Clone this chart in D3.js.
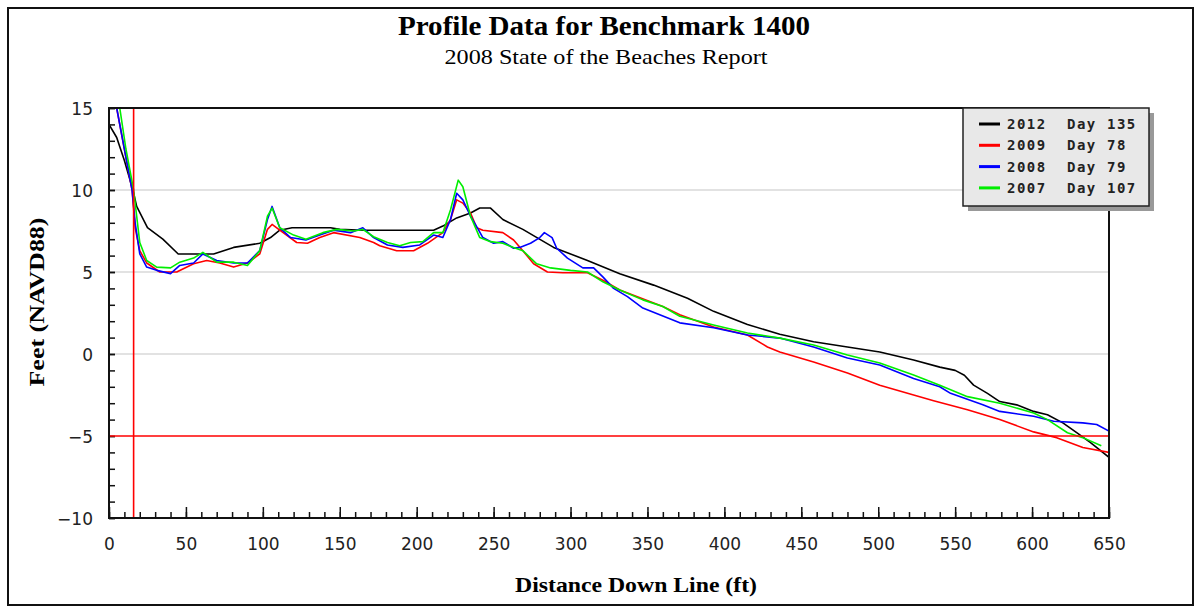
<!DOCTYPE html>
<html lang="en">

<head>
  <meta charset="UTF-8">
  <title>Profile Data for Benchmark 1400</title>
  <style>
    body { margin: 0; background: #fff; }
  </style>
</head>

<body>
  <svg id="svg" width="1200" height="608"></svg>

  <script src="https://d3js.org/d3.v7.min.js"></script>
  <script>
    // profile points: [distance (ft), elevation (ft NAVD88)]
    const s2012 = [[0, 14.0], [5, 13.2], [10, 11.8], [14, 10.5], [16, 9.8], [18, 9.0], [25, 7.7], [35, 7.0], [45, 6.1], [68, 6.1], [81, 6.5], [98, 6.75], [105, 7.1], [111, 7.55], [119, 7.7], [144, 7.7], [150, 7.6], [165, 7.55], [211, 7.55], [217, 7.8], [226, 8.3], [235, 8.6], [241, 8.9], [248, 8.9], [256, 8.2], [269, 7.6], [289, 6.5], [311, 5.7], [332, 4.9], [354, 4.2], [376, 3.4], [393, 2.6], [415, 1.8], [436, 1.2], [458, 0.75], [480, 0.43], [501, 0.12], [523, -0.37], [540, -0.8], [550, -1.0], [556, -1.3], [562, -1.9], [571, -2.4], [579, -2.9], [590, -3.1], [601, -3.5], [610, -3.7], [620, -4.2], [629, -4.8], [638, -5.4], [650, -6.3]]
    const s2009 = [[0, 17.5], [5, 15], [10, 12.5], [15, 10], [17, 7.7], [20, 6.3], [24.5, 5.55], [33, 5.0], [44, 5.0], [55, 5.5], [63.5, 5.7], [72, 5.55], [81, 5.3], [90, 5.55], [98, 6.1], [103, 7.6], [106, 7.9], [111, 7.55], [122, 6.8], [129, 6.75], [137, 7.1], [146, 7.4], [163, 7.1], [172, 6.8], [176, 6.6], [187, 6.3], [198, 6.3], [207, 6.75], [217, 7.4], [222, 8.2], [226, 9.4], [230, 9.2], [235, 8.6], [239, 7.7], [243, 7.55], [256, 7.4], [263, 6.95], [269, 6.3], [276, 5.5], [285, 5.0], [295, 4.95], [311, 4.95], [321, 4.5], [332, 3.9], [343, 3.5], [360, 2.9], [371, 2.4], [393, 1.65], [415, 1.16], [428, 0.43], [436, 0.12], [458, -0.49], [480, -1.16], [501, -1.9], [523, -2.5], [536, -2.85], [558, -3.4], [579, -4.0], [601, -4.75], [616, -5.1], [633, -5.7], [650, -6.0]]
    const s2008 = [[0, 17.5], [5, 15], [10, 12.5], [15, 10], [17, 8.0], [20, 6.1], [24.5, 5.3], [31, 5.1], [40, 4.9], [46, 5.4], [55, 5.55], [61, 6.1], [70, 5.7], [81, 5.55], [90, 5.55], [98, 6.3], [103, 8.2], [106, 9.0], [111, 7.7], [118, 7.1], [128, 6.95], [137, 7.25], [146, 7.55], [157, 7.4], [165, 7.7], [172, 7.1], [181, 6.65], [191, 6.5], [202, 6.65], [211, 7.25], [217, 7.1], [222, 8.2], [226, 9.8], [230, 9.4], [235, 8.4], [240, 7.6], [243, 7.1], [250, 6.75], [256, 6.85], [263, 6.45], [267, 6.5], [274, 6.75], [280, 7.1], [283, 7.4], [288, 7.1], [291, 6.45], [298, 5.85], [308, 5.25], [315, 5.25], [321, 4.7], [328, 4.0], [337, 3.5], [347, 2.8], [371, 1.9], [393, 1.6], [415, 1.16], [436, 0.97], [458, 0.43], [480, -0.24], [501, -0.67], [523, -1.5], [540, -2.0], [547, -2.4], [568, -3.1], [579, -3.5], [601, -3.8], [614, -4.1], [633, -4.2], [642, -4.3], [650, -4.7]]
    const s2007 = [[0, 18], [7, 15], [11, 12.5], [16, 10], [18, 8.4], [20, 6.8], [24.5, 5.7], [31, 5.3], [40, 5.25], [46, 5.6], [55, 5.85], [61, 6.2], [70, 5.6], [81, 5.6], [90, 5.4], [98, 6.3], [103, 8.4], [106, 8.9], [111, 7.7], [120, 7.25], [128, 7.0], [139, 7.4], [148, 7.6], [159, 7.5], [165, 7.6], [172, 7.15], [181, 6.8], [189, 6.6], [196, 6.8], [204, 6.85], [211, 7.4], [217, 7.4], [222, 8.8], [227, 10.6], [230, 10.2], [235, 8.4], [241, 7.1], [248, 6.85], [256, 6.75], [263, 6.5], [269, 6.3], [278, 5.5], [287, 5.25], [300, 5.1], [311, 5.0], [321, 4.4], [332, 3.9], [347, 3.3], [360, 2.9], [371, 2.3], [393, 1.77], [415, 1.28], [436, 0.97], [458, 0.55], [480, -0.06], [501, -0.55], [523, -1.28], [540, -1.9], [558, -2.6], [579, -3.0], [601, -3.6], [610, -4.0], [623, -4.8], [633, -5.1], [645, -5.6]]

    const years = ['2012', '2009', '2008', '2007']
    const days = [135, 78, 79, 107]
    const colors = ['#000000', '#ff0000', '#0000ff', '#00ee00']
    const series = [s2012, s2009, s2008, s2007]

    const xTicks = d3.range(0, 651, 50)
    const yTicks = d3.range(-10, 16, 5)
    const gridValues = [10, 5, 0]
    const refX = 16   // red vertical marker
    const refY = -5   // red horizontal marker

    const plotLeft = 109, plotRight = 1109, plotTop = 108, plotBottom = 518

    const xScale = d3.scaleLinear().domain([0, 650]).range([plotLeft, plotRight])
    const yScale = d3.scaleLinear().domain([-10, 15]).range([plotBottom, plotTop])

    const svg = d3.select('#svg')
      .style('font-family', 'DejaVu Sans, sans-serif')

    // outer border
    svg.append('rect')
      .attr('x', 8).attr('y', 8)
      .attr('width', 1185).attr('height', 597)
      .attr('fill', '#fff')
      .attr('stroke', '#111')
      .attr('stroke-width', 2)

    svg.append('text')
      .attr('x', 604).attr('y', 35)
      .attr('text-anchor', 'middle')
      .attr('textLength', 412)
      .attr('lengthAdjust', 'spacingAndGlyphs')
      .style('font-family', 'Liberation Serif, serif')
      .style('font-weight', 'bold')
      .style('font-size', '27px')
      .text('Profile Data for Benchmark 1400')

    svg.append('text')
      .attr('x', 606).attr('y', 64)
      .attr('text-anchor', 'middle')
      .attr('textLength', 323)
      .attr('lengthAdjust', 'spacingAndGlyphs')
      .style('font-family', 'Liberation Serif, serif')
      .style('font-size', '22px')
      .text('2008 State of the Beaches Report')

    // grid
    svg.append('g')
      .selectAll('line')
      .data(gridValues)
      .enter()
      .append('line')
      .attr('x1', plotLeft).attr('x2', plotRight)
      .attr('y1', d => yScale(d)).attr('y2', d => yScale(d))
      .attr('stroke', '#d8d8d8')
      .attr('stroke-width', 1.5)

    // axes
    const yMinor = svg.append('g')
      .attr('transform', `translate(${plotLeft},0)`)
      .call(d3.axisLeft(yScale).tickValues(d3.range(-10, 16, 1)).tickSize(-6).tickSizeOuter(0).tickFormat(''))
    const yMajor = svg.append('g')
      .attr('transform', `translate(${plotLeft},0)`)
      .call(d3.axisLeft(yScale).tickValues(yTicks).tickSize(-6).tickSizeOuter(0).tickPadding(16))
    const xMinor = svg.append('g')
      .attr('transform', `translate(0,${plotBottom})`)
      .call(d3.axisBottom(xScale).tickValues(d3.range(0, 651, 10)).tickSize(-6).tickSizeOuter(0).tickFormat(''))
    const xMajor = svg.append('g')
      .attr('transform', `translate(0,${plotBottom})`)
      .call(d3.axisBottom(xScale).tickValues(xTicks).tickSize(-11).tickSizeOuter(0).tickPadding(20))

    ;[yMinor, yMajor, xMinor, xMajor].forEach(g => {
      g.select('.domain').remove()
      g.selectAll('line').attr('stroke', '#111').attr('stroke-width', 1.5)
      g.selectAll('text')
        .style('font-family', 'DejaVu Sans, sans-serif')
        .style('font-size', '17px')
        .attr('fill', '#222')
    })
    yMajor.selectAll('text').attr('dy', '0.4em')

    // clip for the profile lines
    svg.append('clipPath')
      .attr('id', 'plot-clip')
      .append('rect')
      .attr('x', plotLeft).attr('y', plotTop)
      .attr('width', plotRight - plotLeft).attr('height', plotBottom - plotTop)

    const line = d3.line()
      .x(d => xScale(d[0]))
      .y(d => yScale(d[1]))

    svg.append('g')
      .attr('clip-path', 'url(#plot-clip)')
      .selectAll('path')
      .data(series)
      .enter()
      .append('path')
      .attr('d', d => line(d))
      .attr('fill', 'none')
      .attr('stroke', (d, i) => colors[i])
      .attr('stroke-width', 1.6)
      .attr('stroke-linejoin', 'round')

    // red reference lines
    svg.append('line')
      .attr('x1', plotLeft).attr('x2', plotRight)
      .attr('y1', yScale(refY)).attr('y2', yScale(refY))
      .attr('stroke', '#ff0000')
      .attr('stroke-width', 1.6)
    svg.append('line')
      .attr('x1', xScale(refX)).attr('x2', xScale(refX))
      .attr('y1', plotTop).attr('y2', plotBottom)
      .attr('stroke', '#ff0000')
      .attr('stroke-width', 1.6)

    // plot frame
    svg.append('rect')
      .attr('x', plotLeft).attr('y', plotTop)
      .attr('width', plotRight - plotLeft).attr('height', plotBottom - plotTop)
      .attr('fill', 'none')
      .attr('stroke', '#111')
      .attr('stroke-width', 2)

    svg.append('text')
      .attr('x', 636).attr('y', 592)
      .attr('text-anchor', 'middle')
      .attr('textLength', 242)
      .attr('lengthAdjust', 'spacingAndGlyphs')
      .style('font-family', 'Liberation Serif, serif')
      .style('font-weight', 'bold')
      .style('font-size', '21px')
      .text('Distance Down Line (ft)')

    svg.append('text')
      .attr('transform', 'translate(44,302) rotate(-90)')
      .attr('text-anchor', 'middle')
      .attr('textLength', 169)
      .attr('lengthAdjust', 'spacingAndGlyphs')
      .style('font-family', 'Liberation Serif, serif')
      .style('font-weight', 'bold')
      .style('font-size', '21px')
      .text('Feet (NAVD88)')

    // legend
    const legend = svg.append('g')
    legend.append('rect')
      .attr('x', 968).attr('y', 113)
      .attr('width', 186).attr('height', 98)
      .attr('fill', '#999')
    legend.append('rect')
      .attr('x', 963).attr('y', 108)
      .attr('width', 186).attr('height', 98)
      .attr('fill', '#e8e8e8')
      .attr('stroke', '#222')
      .attr('stroke-width', 1.5)

    const rows = legend.selectAll('g.row')
      .data(years)
      .enter()
      .append('g')
      .attr('class', 'row')
      .attr('transform', (d, i) => `translate(0,${124 + i * 21.3})`)
    rows.append('line')
      .attr('x1', 979).attr('x2', 1000)
      .attr('stroke', (d, i) => colors[i])
      .attr('stroke-width', 3)
    const legendText = (sel, x, f) => sel.append('text')
      .attr('x', x).attr('y', 5)
      .style('font-family', 'DejaVu Sans Mono, monospace')
      .style('font-weight', 'bold')
      .style('font-size', '14px')
      .style('letter-spacing', '1.5px')
      .attr('fill', '#222')
      .text(f)
    legendText(rows, 1007, d => d)
    legendText(rows, 1067, () => 'Day')
    legendText(rows, 1107, (d, i) => days[i])
  </script>
</body>

</html>
